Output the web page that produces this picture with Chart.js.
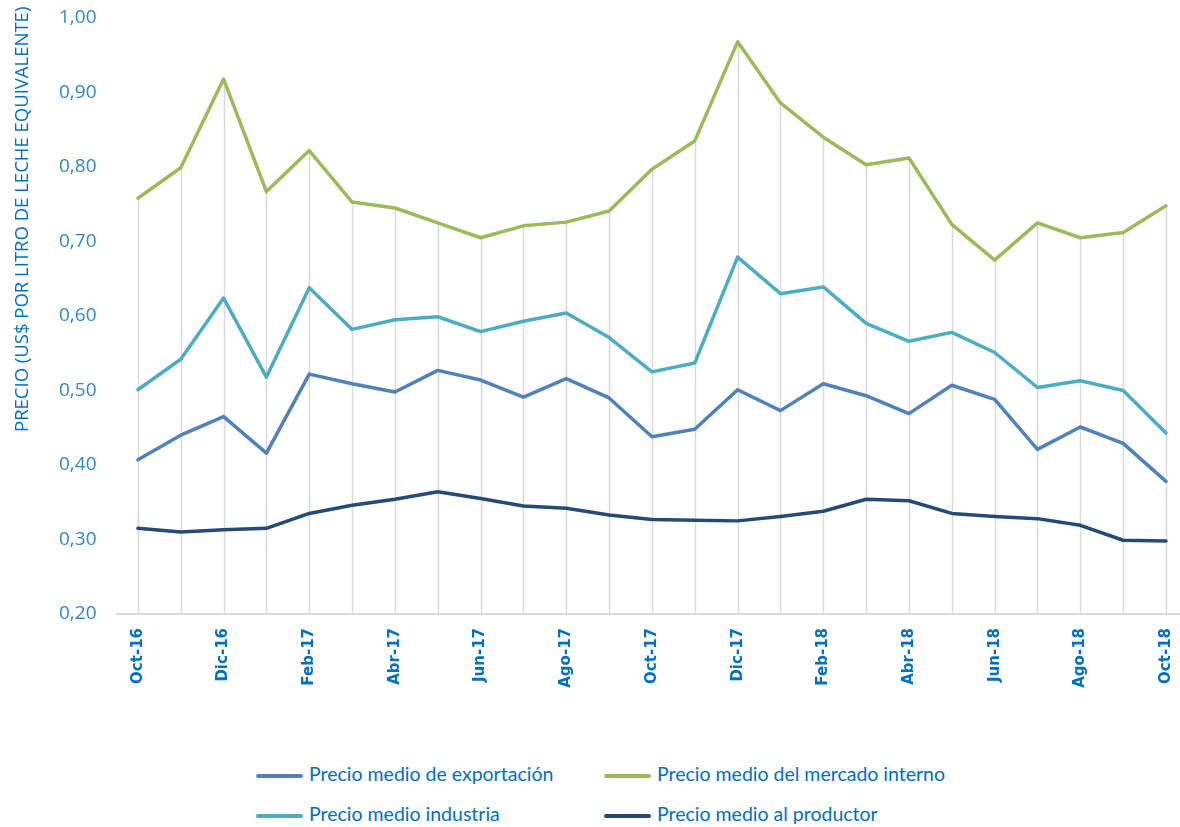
<!DOCTYPE html>
<html>
<head>
<meta charset="utf-8">
<script src="https://cdn.jsdelivr.net/npm/chart.js@4.4.1/dist/chart.umd.min.js"></script>
<style>
    html, body { margin: 0; padding: 0; background: #fff; overflow: hidden; }
    #wrap { position: relative; width: 1180px; height: 827px; overflow: hidden; }
    #box { position: absolute; left: 0; top: 0; width: 1190px; height: 700px; }
    #ytitle {
        position: absolute; left: 8px; top: 2px; height: 434px;
        writing-mode: vertical-rl; transform: rotate(180deg);
        font-family: 'Open Sans', sans-serif; font-size: 18.5px; color: #0070C0;
        text-align: center; white-space: nowrap;
    }
    .leg { position: absolute; font-family: Lato, sans-serif; font-size: 19.5px; color: #0070C0; white-space: nowrap; }
    .leg span { display: inline-block; width: 47px; height: 4px; border-radius: 2px; vertical-align: middle; margin-right: 6px; }
</style>
</head>
<body>
<div id="wrap">
    <div id="box"><canvas id="line"></canvas></div>
    <div id="ytitle">PRECIO (US$ POR LITRO DE LECHE EQUIVALENTE)</div>
    <div id="legend"></div>
</div>
<script>
var meses = ['Oct-16', 'Nov-16', 'Dic-16', 'Ene-17', 'Feb-17', 'Mar-17', 'Abr-17', 'May-17', 'Jun-17', 'Jul-17', 'Ago-17', 'Sep-17',
    'Oct-17', 'Nov-17', 'Dic-17', 'Ene-18', 'Feb-18', 'Mar-18', 'Abr-18', 'May-18', 'Jun-18', 'Jul-18', 'Ago-18', 'Sep-18', 'Oct-18'];

var exportacion = [0.407, 0.440, 0.465, 0.416, 0.522, 0.509, 0.498, 0.527, 0.514, 0.491, 0.516, 0.490,
    0.438, 0.448, 0.501, 0.473, 0.509, 0.493, 0.469, 0.507, 0.488, 0.421, 0.451, 0.429, 0.378];
var mercadoInterno = [0.758, 0.799, 0.918, 0.767, 0.822, 0.753, 0.745, 0.725, 0.705, 0.721, 0.726, 0.741,
    0.797, 0.835, 0.968, 0.886, 0.840, 0.803, 0.812, 0.723, 0.675, 0.725, 0.705, 0.712, 0.748];
var industria = [0.501, 0.542, 0.624, 0.518, 0.638, 0.582, 0.595, 0.599, 0.579, 0.593, 0.604, 0.571,
    0.525, 0.537, 0.679, 0.630, 0.639, 0.590, 0.566, 0.578, 0.551, 0.504, 0.513, 0.500, 0.443];
var productor = [0.315, 0.310, 0.313, 0.315, 0.335, 0.346, 0.354, 0.364, 0.355, 0.345, 0.342, 0.333,
    0.327, 0.326, 0.325, 0.331, 0.338, 0.354, 0.352, 0.335, 0.331, 0.328, 0.319, 0.299, 0.298];

var yTicks = [0.2, 0.3, 0.4, 0.5, 0.6, 0.7, 0.8, 0.9, 1.0];

var series = [
    {label: 'Precio medio de exportación', data: exportacion, color: '#4F81BD'},
    {label: 'Precio medio del mercado interno', data: mercadoInterno, color: '#9BBB59'},
    {label: 'Precio medio industria', data: industria, color: '#4BACC6'},
    {label: 'Precio medio al productor', data: productor, color: '#254A77'}
];

// lineas verticales desde el punto mas alto hasta el eje
var dropLines = {
    id: 'dropLines',
    beforeDatasetsDraw: function (chart) {
        var ctx = chart.ctx;
        var x = chart.scales.x, y = chart.scales.y;
        ctx.save();
        ctx.strokeStyle = '#D9D9D9';
        ctx.lineWidth = 1.5;
        for (var i = 0; i < meses.length; i++) {
            var top = Math.max.apply(null, chart.data.datasets.map(function (d) { return d.data[i]; }));
            var px = Math.round(x.getPixelForValue(i)) + 0.5;
            ctx.beginPath();
            ctx.moveTo(px, y.getPixelForValue(top));
            ctx.lineTo(px, chart.chartArea.bottom);
            ctx.stroke();
        }
        ctx.restore();
    }
};

var chart = new Chart(document.getElementById('line'), {
    type: 'line',
    data: {
        labels: meses,
        datasets: series.map(function (s) {
            return {
                label: s.label,
                data: s.data,
                borderColor: s.color,
                backgroundColor: s.color,
                borderWidth: 3.5,
                pointRadius: 0,
                tension: 0,
                borderJoinStyle: 'round',
                borderCapStyle: 'round'
            };
        })
    },
    options: {
        responsive: true,
        maintainAspectRatio: false,
        animation: false,
        layout: {padding: {top: 18, right: 1, bottom: 6, left: 0}},
        plugins: {legend: {display: false}, tooltip: {enabled: false}},
        scales: {
            x: {
                offset: true,
                grid: {display: false},
                border: {display: true, color: '#D9D9D9', width: 2},
                afterFit: function (scale) { scale.height = 80; },
                ticks: {
                    autoSkip: false,
                    minRotation: 90,
                    maxRotation: 90,
                    padding: 6,
                    color: '#0070C0',
                    font: {family: 'DejaVu Sans', size: 15, weight: 'bold'},
                    callback: function (v, i) { return i % 2 === 0 ? meses[i] : ''; }
                }
            },
            y: {
                min: 0.2,
                max: 1.0,
                afterFit: function (scale) {
                    scale.width = 116.5;
                    scale.paddingTop = 0;
                    scale.paddingBottom = 0;
                },
                afterBuildTicks: function (scale) {
                    scale.ticks = yTicks.map(function (v) { return {value: v}; });
                },
                grid: {display: false},
                border: {display: false},
                ticks: {
                    padding: 12,
                    color: '#2F87CE',
                    font: {family: 'Open Sans', size: 19, lineHeight: 0.5},
                    callback: function (v) { return v.toFixed(2).replace('.', ','); }
                }
            }
        }
    },
    plugins: [dropLines]
});

var pos = [[256, 762], [604, 762], [256, 802], [604, 802]];
var html = '';
chart.data.datasets.forEach(function (d, i) {
    html += '<div class="leg" style="left:' + pos[i][0] + 'px;top:' + pos[i][1] + 'px">' +
        '<span style="background:' + d.borderColor + '"></span>' + d.label + '</div>';
});
document.getElementById('legend').innerHTML = html;
</script>
</body>
</html>
